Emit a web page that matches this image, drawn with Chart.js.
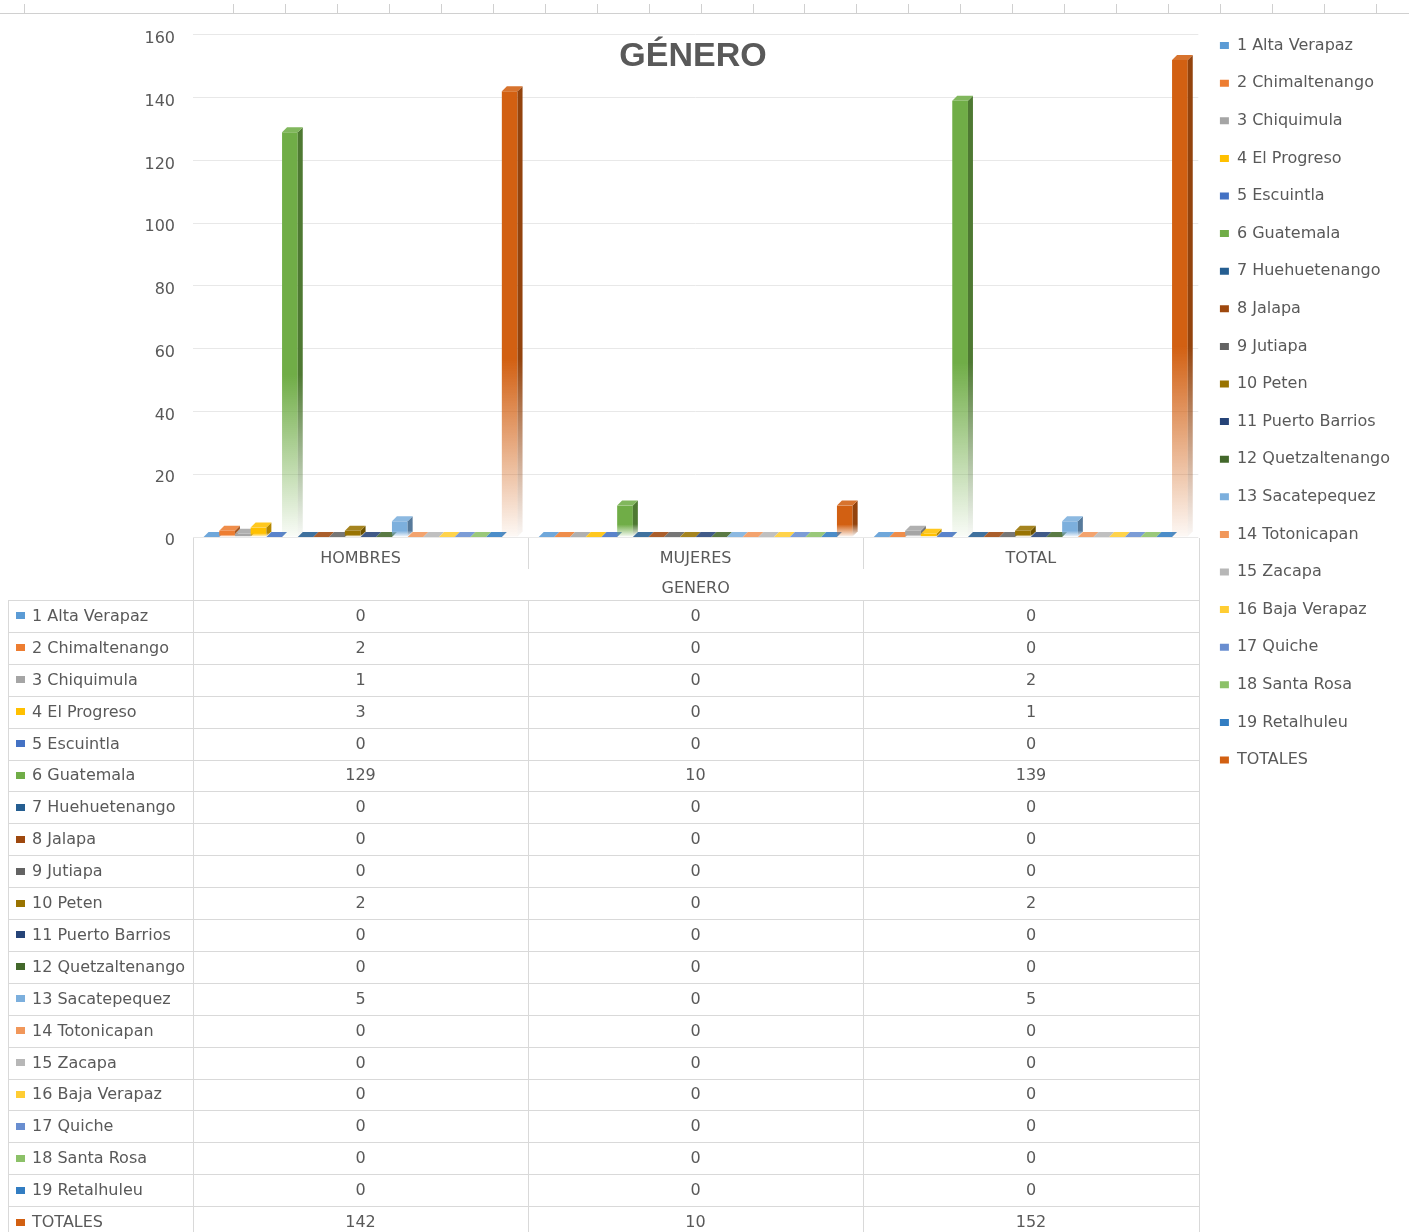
<!DOCTYPE html>
<html><head><meta charset="utf-8">
<script src="https://cdn.jsdelivr.net/npm/chart.js@4.4.1/dist/chart.umd.min.js"></script>
<style>
html,body{margin:0;padding:0;background:#fff;width:1409px;height:1232px;overflow:hidden;}
#wrap{position:relative;width:1409px;height:1232px;}
#c{position:absolute;left:0;top:0;}
.ov{position:absolute;pointer-events:none;}
#title{left:443px;width:500px;top:34px;text-align:center;font:bold 34px 'Liberation Sans',sans-serif;line-height:40px;color:#595959;}
.hl{position:absolute;height:1px;background:#d9d9d9;}
.vl{position:absolute;width:1px;background:#d9d9d9;}
.rl{position:absolute;background:#d0d0d0;}
.cell{position:absolute;display:flex;align-items:center;font:16px 'DejaVu Sans',sans-serif;color:#595959;white-space:nowrap;line-height:20px;}
.num{justify-content:center;}
.key{display:inline-block;width:9px;height:7px;margin-right:7px;}
</style></head>
<body><div id="wrap"><canvas id="c" width="1409" height="1232"></canvas><div id="title" class="ov"></div><div id="ov" class="ov" style="left:0;top:0;width:1409px;height:1232px"></div></div>
<script>
// ---- data ----
const chartTitle = 'GÉNERO';
const axisTitle = 'GENERO';
const categories = ['HOMBRES', 'MUJERES', 'TOTAL'];
const seriesNames = ['1 Alta Verapaz','2 Chimaltenango','3 Chiquimula','4 El Progreso','5 Escuintla','6 Guatemala','7 Huehuetenango','8 Jalapa','9 Jutiapa','10 Peten','11 Puerto Barrios','12 Quetzaltenango','13 Sacatepequez','14 Totonicapan','15 Zacapa','16 Baja Verapaz','17 Quiche','18 Santa Rosa','19 Retalhuleu','TOTALES'];
const hombres = [0,2,1,3,0,129,0,0,0,2,0,0,5,0,0,0,0,0,0,142];
const mujeres = [0,0,0,0,0,10,0,0,0,0,0,0,0,0,0,0,0,0,0,10];
const total   = [0,0,2,1,0,139,0,0,0,2,0,0,5,0,0,0,0,0,0,152];
const yTicks = [0,20,40,60,80,100,120,140,160];
const seriesColors = ['#5B9BD5','#ED7D31','#A5A5A5','#FFC000','#4472C4','#70AD47','#255E91','#9E480E','#636363','#997300','#264478','#43682B','#7CAFDD','#F1975A','#B7B7B7','#FFCD33','#698ED0','#8CC168','#327DC2','#D26012'];

// ---- helpers ----
function rgb(h){const n=parseInt(h.slice(1),16);return [n>>16&255,n>>8&255,n&255];}
function col(h,f,a){const c=rgb(h).map(v=>Math.round(f<0?v*(1+f):v+(255-v)*f));return `rgba(${c[0]},${c[1]},${c[2]},${a})`;}
function fade(ctx,h,top,base,f){
  const g=ctx.createLinearGradient(0,top,0,base);
  g.addColorStop(0,col(h,f,1));g.addColorStop(0.6,col(h,f,1));g.addColorStop(1,col(h,f,0.04));
  return g;
}
const FONT = "'DejaVu Sans', sans-serif";
const TXT = '#595959';

const datasets = seriesNames.map((name,i)=>({
  label:name,
  data:[hombres[i],mujeres[i],total[i]],
  backgroundColor:(c)=>{
    const h=seriesColors[i];
    if(c.type!=='data')return h;
    const ch=c.chart, ys=ch.scales.y;
    if(!ys||!ch.chartArea)return h;
    const top=ys.getPixelForValue(c.raw), base=ys.getPixelForValue(0);
    if(base-top<1)return h;
    return fade(ch.ctx,h,top,base,0);
  },
  borderWidth:0
}));

const bars3d={
  id:'bars3d',
  beforeDatasetsDraw(chart){
    const ctx=chart.ctx, d=5;
    ctx.save();
    for(let j=0;j<categories.length;j++){
      chart.data.datasets.forEach((ds,i)=>{
        const el=chart.getDatasetMeta(i).data[j]; if(!el)return;
        const h=seriesColors[i];
        const {x,y,base,width}=el.getProps(['x','y','base','width'],true);
        const l=x-width/2, r=x+width/2;
        if(base-y>=1){
          el.draw(ctx);
          ctx.beginPath();ctx.moveTo(r,y);ctx.lineTo(r+d,y-d);ctx.lineTo(r+d,base-d);ctx.lineTo(r,base);ctx.closePath();
          ctx.fillStyle=fade(ctx,h,y,base,-0.3);ctx.fill();
        }
        ctx.beginPath();ctx.moveTo(l,y);ctx.lineTo(l+d,y-d);ctx.lineTo(r+d,y-d);ctx.lineTo(r,y);ctx.closePath();
        ctx.fillStyle=col(h,0.12,1);ctx.fill();
      });
    }
    ctx.restore();
    return false;
  }
};

new Chart(document.getElementById('c'),{
  type:'bar',
  data:{labels:categories,datasets},
  plugins:[bars3d],
  options:{
    responsive:false,animation:false,devicePixelRatio:1,
    layout:{padding:{top:16,bottom:0,left:0,right:9}},
    datasets:{bar:{categoryPercentage:0.937,barPercentage:1.0}},
    scales:{
      x:{
        grid:{display:false,drawTicks:false},border:{display:false},
        ticks:{font:{family:FONT,size:16},color:TXT,padding:12},
        title:{display:true,text:axisTitle,font:{family:FONT,size:16},color:TXT,padding:{top:0,bottom:634}},
        afterFit:(s)=>{s.height=695;s.paddingLeft=0;s.paddingRight=0;}
      },
      y:{
        min:0,max:166,
        afterBuildTicks:(s)=>{s.ticks=yTicks.map(v=>({value:v}));},
        grid:{color:'#e8e8e8',lineWidth:1,drawTicks:false},border:{display:false},
        ticks:{font:{family:FONT,size:16},color:TXT,padding:18,labelOffset:4},
        afterFit:(s)=>{s.width=193;s.paddingTop=0;s.paddingBottom=0;}
      }
    },
    plugins:{
      title:{display:false},tooltip:{enabled:false},
      legend:{
        position:'right',align:'start',
        labels:{
          boxWidth:9,boxHeight:7,padding:21.6,color:TXT,font:{family:FONT,size:16},
          generateLabels:(chart)=>chart.data.datasets.map((ds,i)=>({text:ds.label,fillStyle:seriesColors[i],strokeStyle:seriesColors[i],lineWidth:0,hidden:false,datasetIndex:i,fontColor:TXT}))
        }
      }
    }
  }
});

// ---- overlay: title, ruler, data table ----
document.getElementById('title').textContent=chartTitle;
const ov=document.getElementById('ov');
function add(cls,css,html){const e=document.createElement('div');e.className=cls;e.style.cssText=css;if(html!==undefined)e.innerHTML=html;ov.appendChild(e);return e;}
// ruler
add('rl','left:0;top:13px;width:1409px;height:1px;');
const rulerX=[24];for(let k=0;k<=22;k++)rulerX.push(233+k*51.95);
rulerX.forEach(x=>add('rl',`left:${x}px;top:4px;width:1px;height:9px;`));
// table
const X0=8,XC=[193,528,863,1199],T0=600,RH=31.9;
for(let r=0;r<=seriesNames.length;r++){const y=T0+r*RH;if(y<1232)add('hl',`left:${X0}px;top:${y}px;width:${XC[3]-X0+1}px;`);}
add('vl',`left:${X0}px;top:${T0}px;height:${1232-T0}px;`);
add('vl',`left:${XC[0]}px;top:538px;height:${1232-538}px;`);
add('vl',`left:${XC[3]}px;top:538px;height:${1232-538}px;`);
[XC[1],XC[2]].forEach(x=>{add('vl',`left:${x}px;top:538px;height:31px;`);add('vl',`left:${x}px;top:${T0}px;height:${1232-T0}px;`);});
const cols=[hombres,mujeres,total];
seriesNames.forEach((name,r)=>{
  const y=T0+r*RH;
  add('cell',`left:${X0+8}px;top:${y}px;height:${RH}px;`,`<span class="key" style="background:${seriesColors[r]}"></span>${name}`);
  cols.forEach((arr,c)=>{add('cell num',`left:${XC[c]}px;top:${y}px;height:${RH}px;width:${XC[c+1]-XC[c]}px;`,String(arr[r]));});
});
</script>
</body></html>
